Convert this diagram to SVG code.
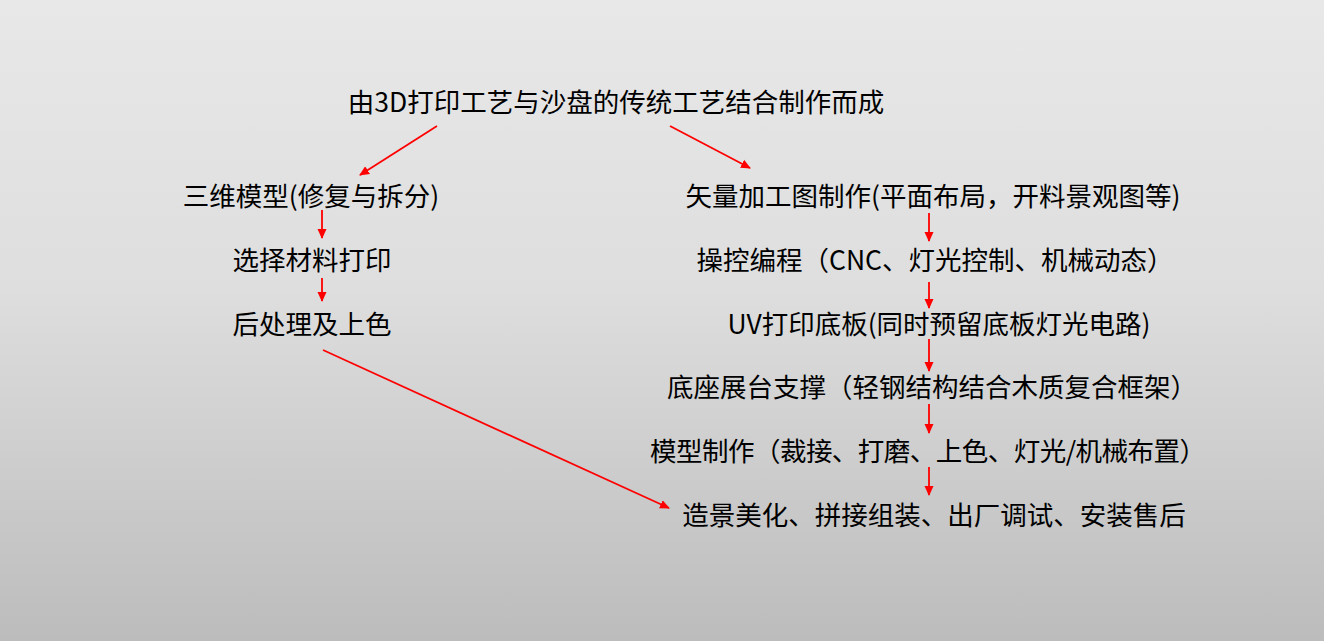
<svg xmlns="http://www.w3.org/2000/svg" width="1324" height="641" viewBox="0 0 1324 641">
<defs>
<linearGradient id="bg" x1="0" y1="0" x2="0" y2="1">
<stop offset="0" stop-color="#e8e8e8"/>
<stop offset="0.45" stop-color="#dedede"/>
<stop offset="1" stop-color="#bcbcbc"/>
</linearGradient>
<marker id="ah" viewBox="0 0 10 10" refX="9" refY="5" markerWidth="10" markerHeight="10" markerUnits="userSpaceOnUse" orient="auto">
<path d="M0,0.5 L10,5 L0,9.5 Z" fill="#ff0000"/>
</marker>
</defs>
<style>
text{font-family:"Noto Sans CJK SC","Liberation Sans",sans-serif;font-size:26.5px;fill:#000;text-anchor:middle}
.c{stroke:#ff0000;stroke-width:1.8;fill:none;marker-end:url(#ah)}
</style>
<rect x="0" y="0" width="1324" height="641" fill="url(#bg)"/>
<g id="n-title"><text x="616" y="112">由3D打印工艺与沙盘的传统工艺结合制作而成</text></g>
<g id="n-l1"><text x="311" y="206">三维模型(修复与拆分)</text></g>
<g id="n-l2"><text x="312" y="270">选择材料打印</text></g>
<g id="n-l3"><text x="312" y="334">后处理及上色</text></g>
<g id="n-r1"><text x="933" y="206">矢量加工图制作(平面布局，开料景观图等)</text></g>
<g id="n-r2"><text x="935" y="270">操控编程（CNC、灯光控制、机械动态）</text></g>
<g id="n-r3"><text x="939" y="334">UV打印底板(同时预留底板灯光电路)</text></g>
<g id="n-r4"><text x="932" y="397">底座展台支撑（轻钢结构结合木质复合框架）</text></g>
<g id="n-r5"><text x="928" y="461" textLength="556" lengthAdjust="spacing">模型制作（裁接、打磨、上色、灯光/机械布置）</text></g>
<g id="n-r6"><text x="934" y="525">造景美化、拼接组装、出厂调试、安装售后</text></g>
<g id="connectors">
<line class="c" x1="437" y1="126" x2="360" y2="175"/>
<line class="c" x1="670" y1="126" x2="750" y2="168"/>
<line class="c" x1="322" y1="210" x2="322" y2="238"/>
<line class="c" x1="322" y1="278" x2="322" y2="301"/>
<line class="c" x1="323" y1="350" x2="669" y2="508"/>
<line class="c" x1="929" y1="213" x2="929" y2="241"/>
<line class="c" x1="929" y1="282" x2="929" y2="308"/>
<line class="c" x1="929" y1="339" x2="929" y2="371"/>
<line class="c" x1="929" y1="404" x2="929" y2="433"/>
<line class="c" x1="929" y1="467" x2="929" y2="495"/>
</g>
</svg>
